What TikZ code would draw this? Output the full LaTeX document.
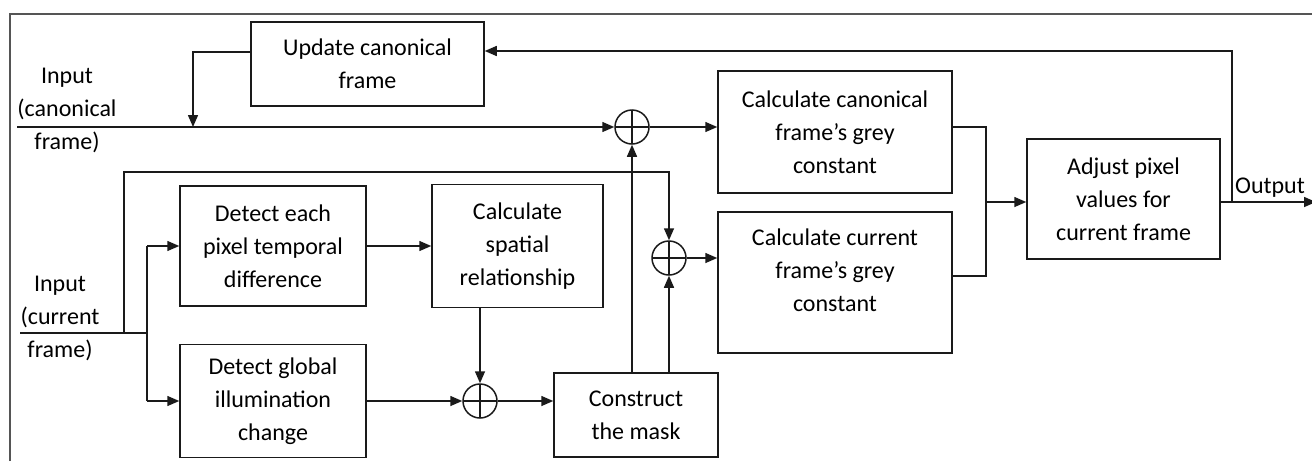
\documentclass[tikz,border=0pt]{standalone}
\usepackage{fontspec}
\setmainfont{Carlito}
\usepackage{xcolor}
\usetikzlibrary{arrows.meta}
\definecolor{framegrey}{HTML}{555555}
\definecolor{inkblack}{HTML}{1A1A1A}

\begin{document}
\begin{tikzpicture}[x=1pt, y=-1pt, line width=1.5pt, draw=inkblack,
  font=\fontsize{24}{33}\selectfont,
  block/.style={draw, inner sep=0pt, align=center},
  sumnode/.style={draw, circle, minimum size=34pt, inner sep=0pt,
    path picture={\draw[line width=1.2pt]
      (path picture bounding box.north) -- (path picture bounding box.south)
      (path picture bounding box.west) -- (path picture bounding box.east);}},
  wire/.style={-{Triangle[length=12pt,width=10pt]}},
  lbl/.style={align=center, inner sep=0pt}
]
  \useasboundingbox (0,0) rectangle (1312,461);
  \fill[white] (0,0) rectangle (1312,461);
  \draw[framegrey, line width=2pt] (10,461) -- (10,14) -- (1312,14);

  % blocks
  \node[block, minimum width=233pt, minimum height=84pt] (update) at (367.5,64)
    {Update canonical\\frame};
  \node[block, minimum width=234pt, minimum height=122pt] (canongrey) at (835,132)
    {Calculate canonical\\frame’s grey\\constant};
  \node[block, minimum width=234pt, minimum height=141pt] (curgrey) at (835,282.5) {};
  \node[lbl] (curgreytxt) at (835,270) {Calculate current\\frame’s grey\\constant};
  \node[block, minimum width=193pt, minimum height=120pt] (adjust) at (1123.5,199)
    {Adjust pixel\\values for\\current frame};
  \node[block, minimum width=186pt, minimum height=120pt] (detect) at (273,246)
    {Detect each\\pixel temporal\\difference};
  \node[block, minimum width=186pt, minimum height=113pt] (global) at (273,401)
    {Detect global\\illumination\\change};
  \node[block, minimum width=171pt, minimum height=123pt] (spatial) at (517.5,246)
    {Calculate\\spatial\\relationship};
  \node[block, minimum width=164pt, minimum height=84pt] (mask) at (636,415)
    {Construct\\the mask};

  % summing junctions
  \node[sumnode] (sumcanon) at (632,127) {};
  \node[sumnode] (sumcur) at (669,258) {};
  \node[sumnode] (sumillum) at (480,401) {};

  % labels
  \node[lbl] (incanon) at (67,110) {Input\\(canonical\\frame)};
  \node[lbl] (incur) at (60,318) {Input\\(current\\frame)};
  \node[lbl, anchor=south] (outlbl) at (1270,198) {Output};

  % free ends and corners
  \coordinate (canonstart) at (17,127);
  \coordinate (curstart) at (20,333);
  \coordinate (curtap) at (124,333);
  \coordinate (curfork) at (147,333);
  \coordinate (curtop) at (124,172);
  \coordinate (updcorner) at (193,52);
  \coordinate (fbtop) at (1232,51);
  \coordinate (fbdown) at (1232,202);
  \coordinate (mergex) at (986,202);
  \coordinate (outend) at (1316,202);

  % canonical path
  \draw[wire] (canonstart) -- (sumcanon.west);
  \draw[wire] (updcorner -| update.west) -- (updcorner) -- (updcorner |- canonstart);
  \draw[wire] (sumcanon.east) -- (canongrey.west |- sumcanon.east);

  % current path
  \draw (curstart) -- (curfork);
  \draw (curfork |- detect.west) -- (curfork |- global.west);
  \draw[wire] (curfork |- detect.west) -- (detect.west);
  \draw[wire] (curfork |- global.west) -- (global.west);
  \draw[wire] (curtap) -- (curtop) -- (curtop -| sumcur) -- (sumcur.north);
  \draw[wire] (detect.east) -- (detect.east -| spatial.west);
  \draw[wire] (spatial.south -| sumillum) -- (sumillum.north);
  \draw[wire] (global.east) -- (sumillum.west);
  \draw[wire] (sumillum.east) -- (sumillum.east -| mask.west);
  \draw[wire] (mask.north -| sumcanon) -- (sumcanon.south);
  \draw[wire] (mask.north -| sumcur) -- (sumcur.south);
  \draw[wire] (sumcur.east) -- (sumcur.east -| curgrey.west);

  % merge and output
  \draw (canongrey.east |- sumcanon) -| (mergex) |- (curgrey.east |- 0,276);
  \draw[wire] (mergex) -- (mergex -| adjust.west);
  \draw[wire] (adjust.east |- fbdown) -- (outend);
  \draw[wire] (fbdown) -- (fbtop) -- (fbtop -| update.east);
\end{tikzpicture}
\end{document}
